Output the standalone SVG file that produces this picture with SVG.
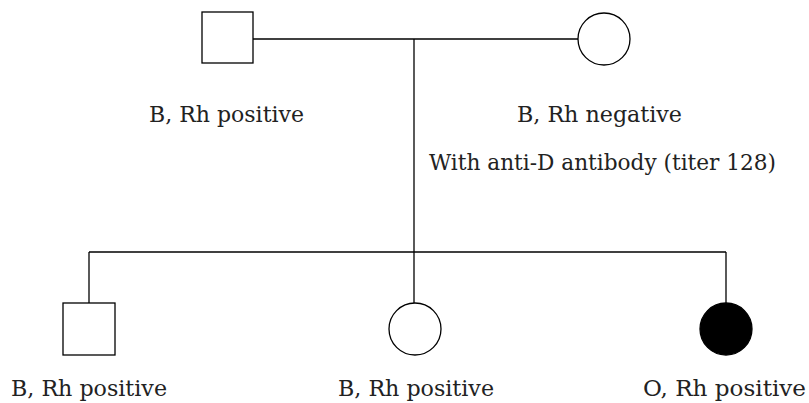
<svg xmlns="http://www.w3.org/2000/svg" width="809" height="403" viewBox="0 0 809 403">
  <style>
    .line { stroke: #000; stroke-width: 1.3; fill: none; }
    .shape { stroke: #000; stroke-width: 1.3; fill: #fff; }
    .affected { stroke: #000; stroke-width: 1.3; fill: #000; }
    .label { font-family: "DejaVu Serif", "Liberation Serif", serif; font-size: 22px; fill: #222; }
  </style>
  <rect width="809" height="403" fill="#fff"/>

  <!-- pedigree connectors -->
  <g id="connectors">
    <line class="line" x1="253" y1="39" x2="578" y2="39"/>
    <line class="line" x1="414" y1="39" x2="414" y2="252"/>
    <line class="line" x1="89" y1="252" x2="726" y2="252"/>
    <line class="line" x1="89" y1="252" x2="89" y2="303"/>
    <line class="line" x1="414" y1="252" x2="414" y2="303"/>
    <line class="line" x1="726" y1="252" x2="726" y2="303"/>
  </g>

  <!-- father -->
  <g id="father">
    <rect class="shape" x="202" y="12" width="51" height="51"/>
    <text class="label" x="149" y="122" textLength="155" lengthAdjust="spacingAndGlyphs">B, Rh positive</text>
  </g>

  <!-- mother -->
  <g id="mother">
    <circle class="shape" cx="604" cy="39" r="26"/>
    <text class="label" x="517" y="122" textLength="165" lengthAdjust="spacingAndGlyphs">B, Rh negative</text>
    <text class="label" x="429" y="170" textLength="347" lengthAdjust="spacingAndGlyphs">With anti-D antibody (titer 128)</text>
  </g>

  <!-- son -->
  <g id="child-son">
    <rect class="shape" x="63" y="303" width="52" height="52"/>
    <text class="label" x="11" y="396" textLength="156" lengthAdjust="spacingAndGlyphs">B, Rh positive</text>
  </g>

  <!-- daughter -->
  <g id="child-daughter">
    <circle class="shape" cx="415" cy="329" r="26"/>
    <text class="label" x="338" y="396" textLength="156" lengthAdjust="spacingAndGlyphs">B, Rh positive</text>
  </g>

  <!-- affected daughter -->
  <g id="child-affected">
    <circle class="affected" cx="726" cy="329" r="26"/>
    <text class="label" x="643" y="396" textLength="163" lengthAdjust="spacingAndGlyphs">O, Rh positive</text>
  </g>
</svg>
